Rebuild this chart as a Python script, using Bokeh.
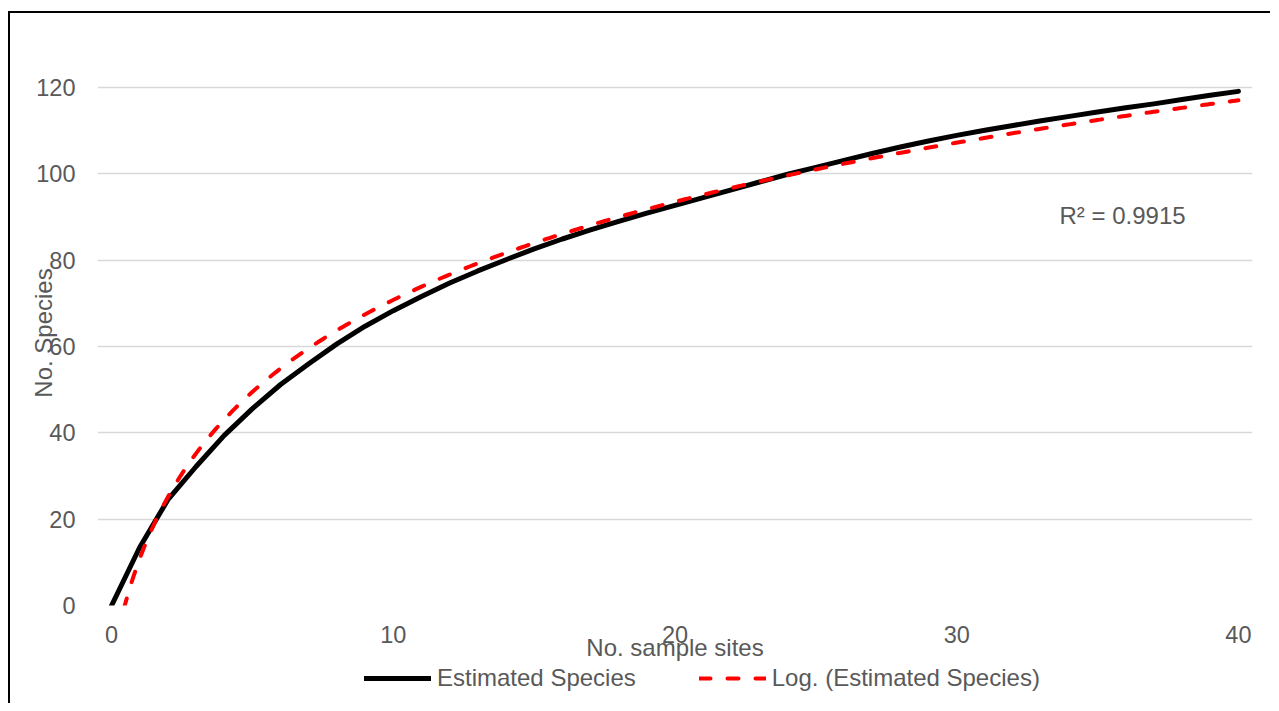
import numpy as np
from bokeh.plotting import figure
from bokeh.layouts import column
from bokeh.models import Range1d, FixedTicker, Legend, LegendItem, Label
from bokeh.embed import file_html
from bokeh.resources import INLINE

# ---- data ----
sites = list(range(0, 41))
species = [0, 13.5, 24.5, 32.2, 39.4, 45.6, 51.2, 56.0, 60.6, 64.7,
           68.3, 71.6, 74.7, 77.5, 80.1, 82.6, 84.9, 87.0, 89.0, 90.9,
           92.7, 94.5, 96.3, 98.1, 99.9, 101.5, 103.1, 104.7, 106.2, 107.6,
           108.9, 110.1, 111.2, 112.3, 113.3, 114.3, 115.3, 116.2, 117.2, 118.2,
           119.1]
x_ticks = [0, 10, 20, 30, 40]
y_ticks = [0, 20, 40, 60, 80, 100, 120]
series_name = "Estimated Species"
trend_name = "Log. (Estimated Species)"
r2_text = "R\u00b2 = 0.9915"

# ---- logarithmic trendline (Excel uses category index 1..n) ----
idx = np.array(sites, dtype=float) + 1.0
a, b = np.polyfit(np.log(idx), np.array(species, dtype=float), 1)
tx = np.linspace(idx.min(), idx.max(), 400)
trend_x = tx - 1.0
trend_y = a * np.log(tx) + b

FONT = "Liberation Sans"
GREY = "#595959"
BLACK_STYLE = dict(line_color="black", line_width=5, line_cap="round", line_join="round")
RED_STYLE = dict(line_color="#ff0000", line_width=4, line_dash="11 17", line_cap="round")

p = figure(width=1260, height=652, output_backend="svg", toolbar_location=None,
           x_range=Range1d(-0.5, 40.5), y_range=Range1d(0, 126.25),
           min_border_left=87, min_border_right=18, min_border_top=47,
           min_border_bottom=60)
p.outline_line_color = None
p.background_fill_color = "white"
p.border_fill_color = "white"

p.line(sites, species, **BLACK_STYLE)
p.line(trend_x, trend_y, **RED_STYLE)

# axes
p.xaxis.ticker = FixedTicker(ticks=x_ticks)
p.yaxis.ticker = FixedTicker(ticks=y_ticks)
for ax in (p.xaxis, p.yaxis):
    ax.axis_line_color = None
    ax.major_tick_line_color = None
    ax.minor_tick_line_color = None
    ax.major_tick_out = 0
    ax.major_label_text_font = FONT
    ax.major_label_text_font_size = "23.5px"
    ax.major_label_text_color = GREY
    ax.axis_label_text_font = FONT
    ax.axis_label_text_font_size = "24px"
    ax.axis_label_text_color = GREY
    ax.axis_label_text_font_style = "normal"
p.xaxis.major_label_standoff = 20
p.yaxis.major_label_standoff = 22
p.xaxis.axis_label = "No. sample sites"
p.yaxis.axis_label = "No. Species"
p.xaxis.axis_label_standoff = -12
p.yaxis.axis_label_standoff = -24

p.xgrid.grid_line_color = None
p.ygrid.grid_line_color = "#d9d9d9"
p.ygrid.grid_line_width = 1.5

# R² label
p.add_layout(Label(x=33.65, y=90.35, text=r2_text, text_font=FONT,
                   text_font_size="24px", text_color=GREY,
                   text_baseline="alphabetic"))

# ---- legend strip (below the chart); series kept out of its view range ----
lg = figure(width=1260, height=38, output_backend="svg", toolbar_location=None,
            x_range=Range1d(0, 1), y_range=Range1d(1000, 1001),
            min_border_left=0, min_border_right=0, min_border_top=0,
            min_border_bottom=0)
lg.axis.visible = False
lg.grid.visible = False
lg.outline_line_color = None
lg.background_fill_color = "white"
lg.border_fill_color = "white"
k1 = lg.line(sites, species, **BLACK_STYLE)
k2 = lg.line(trend_x, trend_y, **RED_STYLE)
legend = Legend(items=[LegendItem(label=series_name, renderers=[k1]),
                       LegendItem(label=trend_name, renderers=[k2])],
                orientation="horizontal", location=(267, 11),
                glyph_width=67, glyph_height=20, label_standoff=6, spacing=63,
                padding=0, margin=0, border_line_color=None,
                background_fill_alpha=0, label_text_font=FONT,
                label_text_font_size="24px", label_text_color=GREY)
lg.add_layout(legend)

layout = column(p, lg, spacing=0)
layout.styles = {"border-left": "2px solid black", "border-top": "2px solid black",
                 "margin-top": "11px", "margin-left": "8px"}

open("out.html", "w").write(file_html(layout, INLINE))
